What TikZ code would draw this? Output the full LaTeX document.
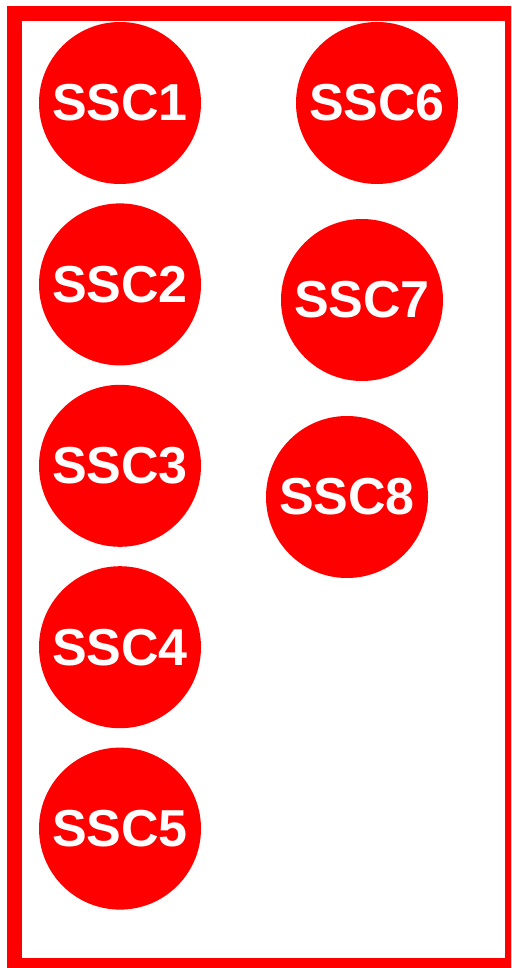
\documentclass[tikz,border=0pt]{standalone}
\usepackage{fontspec}
\setmainfont{Liberation Sans}
\usetikzlibrary{positioning}
\definecolor{sscred}{RGB}{255,0,0}
\tikzset{
  ssc circle/.style={circle, fill=sscred, text=white, inner sep=0pt, minimum size=162pt,
    font=\fontsize{52}{52}\selectfont\bfseries},
  ssc frame/.style={draw=sscred, line width=15pt}
}

\begin{document}
\begin{tikzpicture}[x=1pt, y=-1pt]
    \useasboundingbox (0,0) rectangle (511,968);
    \clip (0,0) rectangle (511,968);
    % Frame
    \draw [ssc frame] (14,13.5) rectangle (512.5,965.5);

    % Left column
    \node [ssc circle] (SSC1) at (120,103) {SSC1};
    \node [ssc circle, below=19pt of SSC1] (SSC2) {SSC2};
    \node [ssc circle, below=19pt of SSC2] (SSC3) {SSC3};
    \node [ssc circle, below=19pt of SSC3] (SSC4) {SSC4};
    \node [ssc circle, below=19pt of SSC4] (SSC5) {SSC5};

    % Right column
    \node [ssc circle] (SSC6) at (377,103) {SSC6};
    \node [ssc circle] (SSC7) at (362,300) {SSC7};
    \node [ssc circle] (SSC8) at (347,497) {SSC8};
\end{tikzpicture}
\end{document}
